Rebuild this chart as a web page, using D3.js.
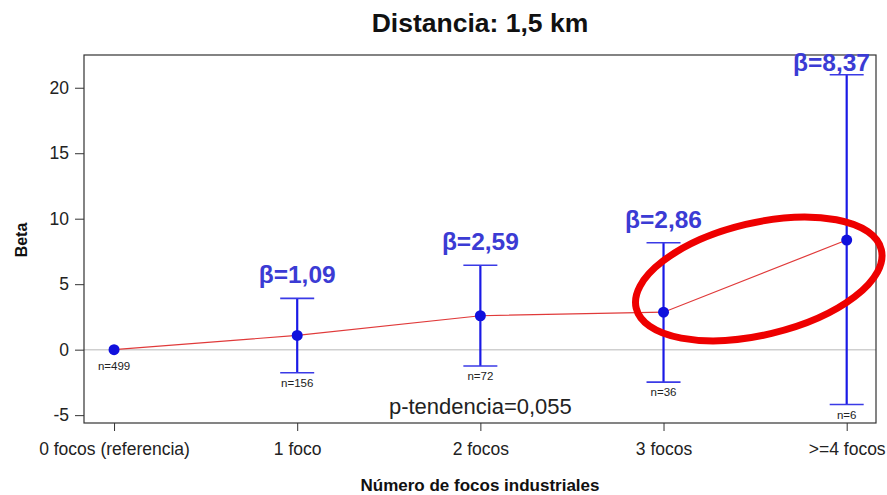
<!DOCTYPE html>
<html><head><meta charset="utf-8">
<script src="https://cdn.jsdelivr.net/npm/d3@7"></script>
<style>body{margin:0;background:#fff;} text{font-family:"Liberation Sans",Arial,sans-serif;}</style>
</head><body><svg id="c" width="887" height="495"></svg>
<script>
const categories = ["0 focos (referencia)", "1 foco", "2 focos", "3 focos", ">=4 focos"];
const betas = [0, 1.09, 2.59, 2.86, 8.37];
const lower = [null, -1.76, -1.25, -2.48, -4.19];
const upper = [null, 3.92, 6.45, 8.16, 20.99];
const betaLabels = [null, "β=1,09", "β=2,59", "β=2,86", "β=8,37"];
const nLabels = ["n=499", "n=156", "n=72", "n=36", "n=6"];
const yTicks = [-5, 0, 5, 10, 15, 20];
const title = "Distancia: 1,5 km";
const pTrend = "p-tendencia=0,055";
const highlight = {cx: 3.52, cy: 5.4, rx: 126, ry: 56, angle: -13.4};

const svg = d3.select("#c");
const L = 84, R = 876, T = 55, B = 423;
const x = d3.scaleLinear().domain([-0.164, 4.16]).range([L, R]);
const y = d3.scaleLinear().domain([-5.6, 22.5]).range([B, T]);
const idx = d3.range(categories.length);

// zero line
svg.append("line").attr("x1", L).attr("x2", R).attr("y1", y(0)).attr("y2", y(0))
  .attr("stroke", "#cfcfcf").attr("stroke-width", 1.5);

// box
svg.append("rect").attr("x", L).attr("y", T).attr("width", R - L).attr("height", B - T)
  .attr("fill", "none").attr("stroke", "#333").attr("stroke-width", 1.2);

// axes
const yAxis = d3.axisLeft(y).tickValues(yTicks).tickFormat(d => String(d)).tickSize(9).tickPadding(6);
const gy = svg.append("g").attr("transform", `translate(${L},0)`).call(yAxis);
gy.select(".domain").remove();
gy.selectAll("line").attr("stroke", "#333");
gy.selectAll("text").attr("font-size", 17.5).attr("fill", "#222").attr("font-family", "Liberation Sans, Arial");

const xAxis = d3.axisBottom(x).tickValues(idx).tickFormat(i => categories[i]).tickSize(8).tickPadding(12);
const gx = svg.append("g").attr("transform", `translate(0,${B})`).call(xAxis);
gx.select(".domain").remove();
gx.selectAll("line").attr("stroke", "#333");
gx.selectAll("text").attr("font-size", 17.5).attr("fill", "#222").attr("font-family", "Liberation Sans, Arial");

// red connecting line
svg.append("path").datum(idx)
  .attr("d", d3.line().x(i => x(i)).y(i => y(betas[i])))
  .attr("fill", "none").attr("stroke", "#e03a3a").attr("stroke-width", 1.2);

// error bars
const eb = idx.filter(i => lower[i] !== null);
svg.selectAll(".eb").data(eb).enter().append("line")
  .attr("x1", i => x(i)).attr("x2", i => x(i))
  .attr("y1", i => y(lower[i])).attr("y2", i => y(upper[i]))
  .attr("stroke", "#1a1ae6").attr("stroke-width", 2.2);
const capW = 17;
["l", "u"].forEach(k => {
  svg.selectAll(".cap" + k).data(eb).enter().append("line")
    .attr("x1", i => x(i) - capW).attr("x2", i => x(i) + capW)
    .attr("y1", i => y(k === "l" ? lower[i] : upper[i]))
    .attr("y2", i => y(k === "l" ? lower[i] : upper[i]))
    .attr("stroke", "#3a3ae6").attr("stroke-width", 1.6);
});

// points
svg.selectAll(".pt").data(idx).enter().append("circle")
  .attr("cx", i => x(i)).attr("cy", i => y(betas[i])).attr("r", 5.5)
  .attr("fill", "#1010dd");

// n labels
svg.selectAll(".nl").data(idx).enter().append("text")
  .attr("x", i => x(i))
  .attr("y", i => lower[i] === null ? y(betas[i]) + 20 : y(lower[i]) + 14)
  .attr("text-anchor", "middle").attr("font-size", 11.5).attr("fill", "#222")
  .text(i => nLabels[i]);

// beta labels (kept inside the right edge of the plot)
svg.selectAll(".bl").data(eb).enter().append("text")
  .attr("x", i => x(i)).attr("y", i => Math.max(y(upper[i]) - 15, T + 16))
  .attr("text-anchor", "middle").attr("font-size", 24.5).attr("font-weight", "bold")
  .attr("fill", "#3b3bd4").text(i => betaLabels[i])
  .each(function(i) {
    const w = this.getComputedTextLength();
    const cx = Math.min(x(i), R - 6 - w / 2);
    d3.select(this).attr("x", cx);
  });

// p-trend
svg.append("text").attr("x", x(2)).attr("y", y(-4.9))
  .attr("text-anchor", "middle").attr("font-size", 22).attr("fill", "#222").text(pTrend);

// highlight ellipse
svg.append("ellipse")
  .attr("transform", `translate(${x(highlight.cx)},${y(highlight.cy)}) rotate(${highlight.angle})`)
  .attr("rx", highlight.rx).attr("ry", highlight.ry)
  .attr("fill", "none").attr("stroke", "#ee0000").attr("stroke-width", 7);

// titles
svg.append("text").attr("x", (L + R) / 2).attr("y", 32).attr("text-anchor", "middle")
  .attr("font-size", 26.5).attr("font-weight", "bold").attr("fill", "#111").text(title);
svg.append("text").attr("x", (L + R) / 2).attr("y", 491).attr("text-anchor", "middle")
  .attr("font-size", 17).attr("font-weight", "bold").attr("fill", "#111").text("Número de focos industriales");
svg.append("text").attr("transform", `translate(27,${(T + B) / 2 + 1}) rotate(-90)`).attr("text-anchor", "middle")
  .attr("font-size", 16).attr("font-weight", "bold").attr("fill", "#111").text("Beta");
</script></body></html>
